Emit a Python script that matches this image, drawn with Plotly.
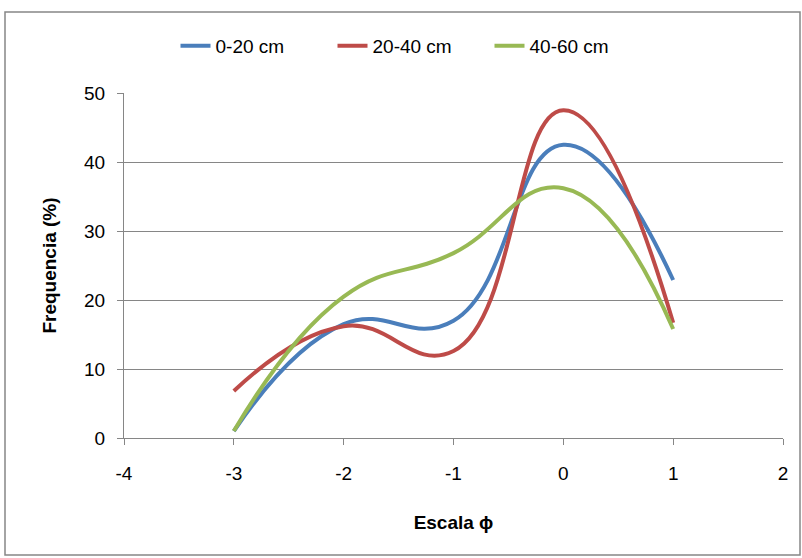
import plotly.graph_objects as go

x_phi = [-3, -2, -1, 0, 1]
s_0_20 = [1.0, 16.5, 17.0, 42.5, 22.9]
s_20_40 = [6.8, 16.2, 12.6, 47.5, 16.7]
s_40_60 = [1.0, 20.5, 26.8, 36.2, 15.8]
names = ["0-20 cm", "20-40 cm", "40-60 cm"]
colors = ["#4A7EBB", "#BE4B48", "#98B954"]
x_ticks = [-4, -3, -2, -1, 0, 1, 2]
x_tick_text = ["-4", "-3", "-2", "-1", "0", "1", "2"]

FONT = "Liberation Sans, Arial, sans-serif"

fig = go.Figure()
for ys, nm, c in zip([s_0_20, s_20_40, s_40_60], names, colors):
    fig.add_trace(go.Scatter(x=x_phi, y=ys, name=nm, mode="lines",
                             line=dict(color=c, width=4, shape="spline", smoothing=1.3)))

W, H = 802, 558
L, R, T, B = 124, 783, 93, 438
pw, ph = R - L, B - T

fig.update_layout(
    width=W, height=H,
    margin=dict(l=L, r=W - R, t=T, b=H - B, autoexpand=False),
    paper_bgcolor="white", plot_bgcolor="white",
    font=dict(family=FONT, size=19, color="#000"),
    showlegend=True,
    legend=dict(orientation="h", x=(411 - L) / pw, xanchor="center", y=(B - 46) / ph,
                yanchor="middle", font=dict(size=19), tracegroupgap=0,
                entrywidth=112, entrywidthmode="pixels",
                bgcolor="rgba(0,0,0,0)"),
    xaxis=dict(range=[-4, 2], tickmode="array", tickvals=x_ticks, ticktext=x_tick_text,
               showgrid=False, automargin=False, ticklabelstandoff=12,
               zeroline=False, showline=True, linecolor="#868686", linewidth=1,
               ticks="outside", ticklen=6, tickcolor="#868686",
               title=dict(text="<b>Escala ϕ</b>", font=dict(size=19), standoff=32)),
    yaxis=dict(range=[0, 50], tickmode="linear", tick0=0, dtick=10, showgrid=True,
               automargin=False, ticklabelstandoff=8,
               gridcolor="#868686", gridwidth=1, zeroline=False, showline=True,
               linecolor="#868686", linewidth=1, ticks="outside", ticklen=6,
               tickcolor="#868686",
               title=dict(text="<b>Frequencia (%)</b>", font=dict(size=19), standoff=22)),
    shapes=[dict(type="rect", xref="paper", yref="paper",
                 x0=(5 - L) / pw, x1=(800 - L) / pw,
                 y0=(B - 555) / ph, y1=(B - 12) / ph,
                 line=dict(color="#868686", width=1.5), layer="below")],
)

fig.write_html("out.html", config={"displayModeBar": False},
               post_script="document.body.style.margin='0';document.body.style.overflow='hidden';")
